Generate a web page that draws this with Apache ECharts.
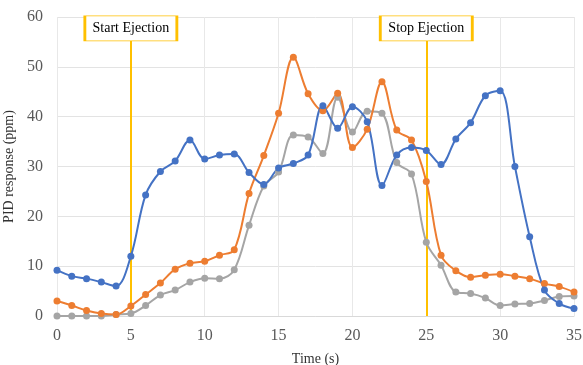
<!DOCTYPE html>
<html>
<head>
<meta charset="utf-8">
<script src="https://cdn.jsdelivr.net/npm/echarts@6/dist/echarts.min.js"></script>
<style>
  html, body { margin: 0; padding: 0; background: #fff; }
  #chart { width: 583px; height: 365px; }
</style>
</head>
<body>
<div id="chart"></div>
<script>
// Time in seconds
const time = [0,1,2,3,4,5,6,7,8,9,10,11,12,13,14,15,16,17,18,19,20,21,22,23,24,25,26,27,28,29,30,31,32,33,34,35];

// PID responses (ppm)
const blueSeries = [9.2,8.0,7.5,6.8,6.0,12.0,24.3,29.0,31.1,35.3,31.5,32.3,32.5,28.8,26.4,29.7,30.6,32.3,42.2,37.7,42.0,39.0,26.2,32.3,33.8,33.2,30.4,35.5,38.8,44.2,45.2,30.0,15.9,5.2,2.5,1.5];
const orangeSeries = [3.0,2.1,1.1,0.5,0.3,2.0,4.3,6.6,9.4,10.6,11.0,12.2,13.3,24.6,32.2,40.7,51.9,44.6,41.2,44.7,33.8,37.5,47.0,37.3,35.3,27.0,12.2,9.1,7.8,8.2,8.4,8.0,7.5,6.5,5.9,4.8];
const graySeries = [0,0,0,0,0.3,0.5,2.1,4.2,5.2,6.8,7.6,7.5,9.3,18.2,26.1,28.9,36.3,35.9,32.6,43.9,36.9,41.1,40.7,30.8,28.5,14.8,10.2,4.8,4.5,3.6,2.1,2.4,2.5,3.1,3.9,4.0];

// Ejection events
const eventTimes = [5, 25];
const eventLabels = ['Start Ejection', 'Stop Ejection'];

const xTicks = { min: 0, max: 35, interval: 5 };
const yTicks = { min: 0, max: 60, interval: 10 };

const serif = '"Liberation Serif", "Times New Roman", serif';
const gold = '#FFC000';

function pairs(vals) { return time.map((t, i) => [t, vals[i]]); }

function lineSeries(name, vals, color, extra) {
  return Object.assign({
    name: name,
    type: 'line',
    data: pairs(vals),
    smooth: 0.35,
    symbol: 'circle',
    symbolSize: 7,
    lineStyle: { color: color, width: 2 },
    itemStyle: { color: color },
    z: 3
  }, extra || {});
}

const chart = echarts.init(document.getElementById('chart'));
chart.setOption({
  animation: false,
  backgroundColor: '#fff',
  grid: { left: 57, right: 9, top: 17, bottom: 49, containLabel: false, outerBoundsMode: 'none' },
  xAxis: {
    type: 'value',
    min: xTicks.min, max: xTicks.max, interval: xTicks.interval,
    name: 'Time (s)',
    nameLocation: 'middle',
    nameGap: 36,
    nameTextStyle: { fontFamily: serif, fontSize: 14, color: '#333' },
    axisLine: { show: true, lineStyle: { color: '#d9d9d9', width: 1 } },
    axisTick: { show: false },
    axisLabel: { fontFamily: serif, fontSize: 16, color: '#595959', margin: 12 },
    splitLine: { show: true, lineStyle: { color: '#e8e8e8', width: 1 } }
  },
  yAxis: {
    type: 'value',
    min: yTicks.min, max: yTicks.max, interval: yTicks.interval,
    name: 'PID response (ppm)',
    nameLocation: 'middle',
    nameGap: 33,
    nameTextStyle: { fontFamily: serif, fontSize: 14, color: '#333' },
    axisLine: { show: false },
    axisTick: { show: false },
    axisLabel: { fontFamily: serif, fontSize: 16, color: '#595959', margin: 14 },
    splitLine: { show: true, lineStyle: { color: '#e3e3e3', width: 1 } }
  },
  series: [
    lineSeries('Series 3', graySeries, '#A5A5A5'),
    lineSeries('Series 2', orangeSeries, '#ED7D31'),
    lineSeries('Series 1', blueSeries, '#4472C4', {
      markLine: {
        silent: true,
        symbol: ['none', 'none'],
        label: { show: false },
        lineStyle: { color: gold, width: 2, type: 'solid' },
        z: 2,
        data: eventTimes.map(t => [{ coord: [t, 0] }, { coord: [t, 55.2] }])
      },
      markPoint: {
        silent: true,
        symbol: 'rect',
        symbolSize: [92, 25],
        itemStyle: { color: '#fff', borderColor: gold, borderWidth: 1.5 },
        label: {
          show: true,
          position: 'inside',
          fontFamily: serif,
          fontSize: 14,
          color: '#000',
          formatter: p => p.name
        },
        z: 5,
        data: eventTimes.map((t, i) => ({ name: eventLabels[i], coord: [t, 57.7] }))
      }
    })
  ]
});
</script>
</body>
</html>
